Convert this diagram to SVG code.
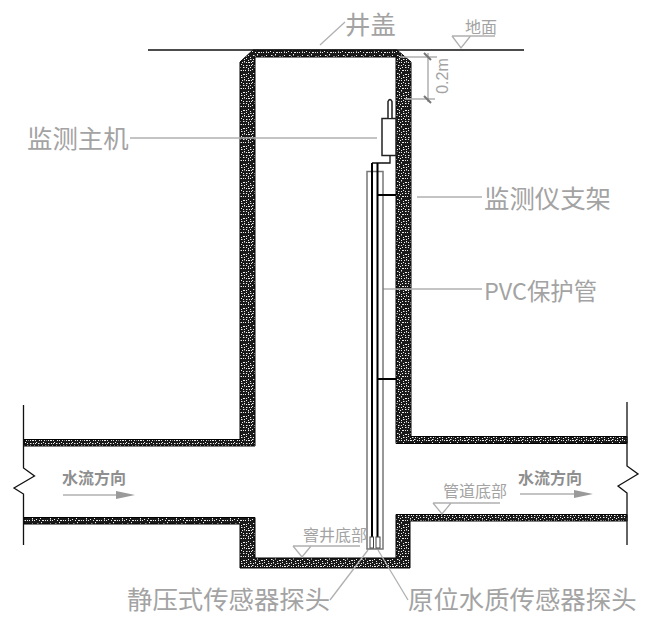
<svg xmlns="http://www.w3.org/2000/svg" width="650" height="622" viewBox="0 0 650 622">
<style>
text{font-family:"Noto Sans CJK SC","Noto Sans",sans-serif;fill:#a3a3a3}
.big{font-size:25.4px}
.small{font-size:16px}
.flow{font-size:16px;font-weight:700;fill:#8f8f8f}
.lead{fill:none;stroke:#b0b0b0;stroke-width:1.3}
.ink{fill:none;stroke:#111;stroke-width:1.3}
.thick{fill:none;stroke:#000;stroke-width:2}
.gray{fill:none;stroke:#777;stroke-width:1.5}
.conc{fill:url(#speck);stroke:#000;stroke-width:1}
.arrow{fill:#9a9a9a;stroke:none}
</style>
<defs>
<pattern id="speck" width="18" height="18" patternUnits="userSpaceOnUse">
<rect width="18" height="18" fill="#1a1a1a"/>
<path fill="#eee" d="M1 1h1.500v1h-1.500zM5 0h1v1.500h-1zM9 2h2v1h-2zM14 1h1v1h-1zM3 4h1v1.500h-1zM7 5h1.500v1h-1.500zM12 4h1v1h-1zM16 5h1.500v1h-1.500zM0 7h1.500v1h-1.500zM5 8h1v1h-1zM10 7h1v1.500h-1zM14 8h2v1h-2zM2 11h1.500v1h-1.500zM7 10h1v1h-1zM12 11h1.500v1h-1.500zM17 11h1v1h-1zM4 14h1v1h-1zM9 13h1.500v1h-1.500zM14 14h1v1.500h-1zM0 15h1v1h-1zM6 16h2v1h-2zM11 16h1v1h-1zM16 16h1v1h-1zM3 2h1v1h-1zM7 3h1v1h-1zM12 2h1v1h-1zM16 3h1v1h-1zM1 5h1v1h-1zM5 6h1v1h-1zM10 5h1v1h-1zM14 6h1v1h-1zM3 8h1v1h-1zM8 8h1v1h-1zM12 8h1v1h-1zM17 8h1v1h-1zM0 10h1v1h-1zM5 11h1v1h-1zM9 11h1v1h-1zM15 11h1v1h-1zM2 13h1v1h-1zM6 13h1v1h-1zM12 13h1v1h-1zM16 13h1v1h-1zM3 16h1v1h-1zM9 16h1v1h-1zM14 16h1v1h-1z"/>
</pattern>
</defs>

<g id="structure">
<path class="conc" d="M24 439.500H240V62L253 50H397L411 62V436.500H627V443.500H396V57H255V446H24Z"/>
<path class="conc" d="M24 517.500H255V558H396V514.500H627V521H410V568H240V524H24Z"/>
<path class="ink" d="M148 50H524"/>
<path class="ink" d="M23.500 405V468L34.500 476L14 488L23.500 494V545"/>
<path class="ink" d="M627 402V466L638 474L618 486L627 493V545"/>
</g>

<g id="connectors">
<path class="lead" d="M320 45L345 22"/>
<path class="lead" d="M130 138H377"/>
<path class="lead" d="M417 197H482"/>
<path class="lead" d="M383 289H482"/>
<path class="lead" d="M368 550L330 600"/>
<path class="lead" d="M378 550L408 600"/>
</g>

<g id="monitor-host">
<rect x="382" y="118.500" width="14" height="37" fill="#fff" stroke="#222" stroke-width="1.500"/>
<path d="M388 118V101.500Q390 97.500 392 101.500V118" fill="#fff" stroke="#222" stroke-width="1.500"/>
<path class="ink" d="M390 156V163H372"/>
</g>

<g id="pvc-pipe">
<path class="gray" d="M367 549V171.500H383V549H367Z"/>
<path class="thick" d="M372 163V537M377.500 163V537"/>
<rect x="370" y="537" width="3.500" height="11" fill="#fff" stroke="#444"/>
<rect x="376" y="537" width="4" height="11" fill="#fff" stroke="#444"/>
</g>

<g id="brackets">
<path class="thick" d="M377.500 195H396"/>
<path class="thick" d="M377.500 379H396"/>
</g>

<g id="dimension">
<path class="lead" d="M400 57H437M405 99H435"/>
<path d="M428 53V102" fill="none" stroke="#888" stroke-width="1"/>
<path d="M424 53L431 60M424 96L431 103" fill="none" stroke="#777" stroke-width="2"/>
<text transform="translate(448 76) rotate(-90)" text-anchor="middle" style="font-family:'Liberation Sans',sans-serif;font-size:16px">0.2m</text>
</g>

<g id="level-ground">
<path class="lead" d="M452 36H495M452 36L461 48L470.500 36"/>
<text class="small" x="465" y="33">地面</text>
</g>
<g id="level-sump">
<path class="lead" d="M293 546H360M293 546L302 557L311 546"/>
<text class="small" x="303" y="541">窨井底部</text>
</g>
<g id="level-pipe">
<path class="lead" d="M433 503H500M433 503L442 514L451 503"/>
<text class="small" x="443" y="497">管道底部</text>
</g>

<g id="flow-left">
<path d="M63 495H118" stroke="#b0b0b0" stroke-width="1.500"/>
<path class="arrow" d="M116 491L135 495L116 499Z"/>
<text class="flow" x="62" y="484">水流方向</text>
</g>
<g id="flow-right">
<path d="M520 494H575" stroke="#b0b0b0" stroke-width="1.500"/>
<path class="arrow" d="M574 490L593 494L574 498Z"/>
<text class="flow" x="518" y="484">水流方向</text>
</g>

<g id="labels">
<text class="big" x="345" y="34">井盖</text>
<text class="big" x="27" y="148">监测主机</text>
<text class="big" x="484" y="208">监测仪支架</text>
<text class="big" x="484" y="300" style="font-size:23.400px">PVC保护管</text>
<text class="big" x="127" y="609">静压式传感器探头</text>
<text class="big" x="408" y="609">原位水质传感器探头</text>
</g>
</svg>
